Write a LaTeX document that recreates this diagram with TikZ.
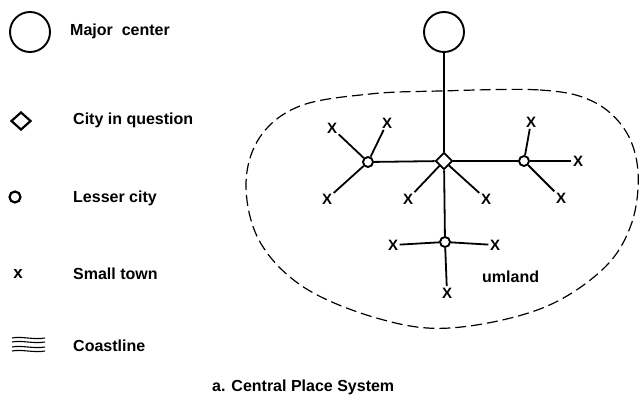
\documentclass[tikz,border=0pt]{standalone}
\usepackage{fontspec}
\setmainfont{Liberation Sans}
\usepackage{tikz}
\usetikzlibrary{shapes.geometric}

\begin{document}
\begin{tikzpicture}[x=1pt, y=-1pt, font=\fontsize{16}{19}\selectfont\bfseries,
  major/.style={draw, circle, line width=1.9pt, minimum size=40pt, inner sep=0pt},
  focal/.style={draw, diamond, line width=1.9pt, minimum size=17pt, inner sep=0pt},
  lesser/.style={draw, circle, line width=1.9pt, minimum size=10pt, inner sep=0pt},
  town/.style={inner sep=1.5pt, font=\fontsize{15}{15}\selectfont\bfseries},
  link/.style={line width=1.8pt},
  lbl/.style={anchor=base west, inner sep=0pt}]
  \useasboundingbox (0,0) rectangle (642,398);
  % legend
  \node[major] (kmc) at (30,32) {};
  \node[lbl] (tmc) at (70,36) {Major~ center};
  \node[focal, minimum width=20pt, minimum height=18pt, line width=2.2pt] (kcq) at (21,121) {};
  \node[lbl] (tcq) at (73,125) {City in question};
  \node[lesser, minimum size=11pt, line width=2.2pt] (klc) at (15,197) {};
  \node[lbl] (tlc) at (73,203) {Lesser city};
  \node[inner sep=0pt, font=\fontsize{17}{17}\selectfont\bfseries] (kst) at (18,274) {x};
  \node[lbl] (tst) at (73,279) {Small town};
  \foreach \y in {338,342,347,351}
    \draw[line width=1.1pt] (12,\y) .. controls (22,\y-2) and (33,\y+2) .. (45,\y);
  \node[lbl] (tco) at (73,351) {Coastline};
  \node[lbl] (cap) at (212,391) {a. Central Place System};
  % umland
  \draw[line width=1.2pt, dash pattern=on 11pt off 5pt] plot[smooth cycle, tension=0.6] coordinates {
    (440,91) (540,90) (592,101) (625,130) (638,172) (631,225) (602,270) (540,309)
    (450,328) (380,319) (305,288) (260,242) (246,185) (260,137) (300,106) (370,94)};
  \node[anchor=base west, inner sep=0pt] (um) at (482,282) {umland};
  % centres
  \node[major] (mc) at (444,32) {};
  \node[focal] (cq) at (444,161) {};
  \node[lesser] (lw) at (368,162) {};
  \node[lesser] (le) at (524,161) {};
  \node[lesser] (ls) at (445,242) {};
  \draw[link] (mc) -- (cq);
  \draw[link] (cq) -- (lw);
  \draw[link] (cq) -- (le);
  \draw[link] (cq) -- (ls);
  % small towns
  \foreach \n/\x/\y/\c in {1/332/128/lw, 2/387/123/lw, 3/327/199/lw, 4/408/199/cq, 5/486/199/cq,
    6/531/122/le, 7/578/161/le, 8/561/198/le, 9/393/245/ls, 10/495/245/ls, 11/447/293/ls} {
    \node[town] (t\n) at (\x,\y) {X};
    \draw[link] (\c) -- (t\n);
  }
\end{tikzpicture}
\end{document}
